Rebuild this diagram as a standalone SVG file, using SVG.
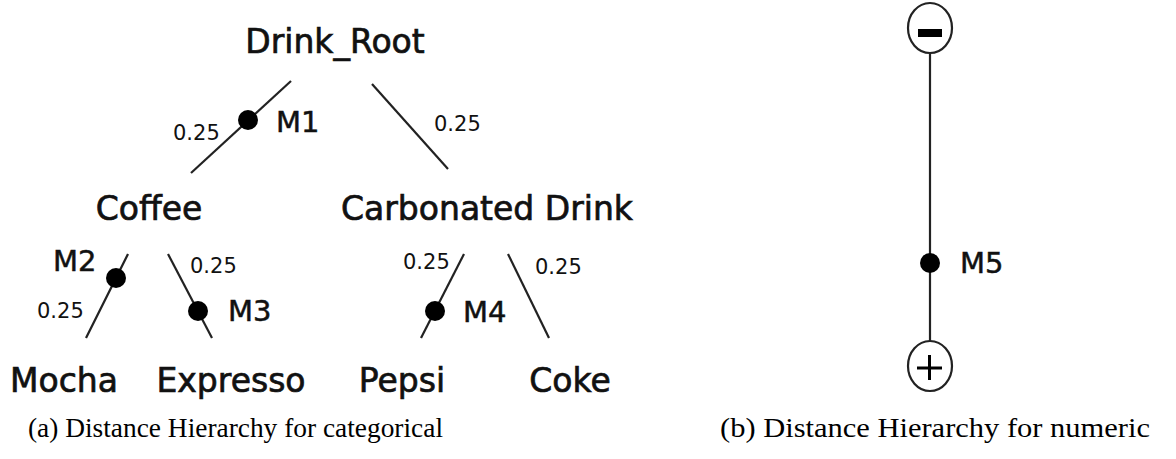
<svg xmlns="http://www.w3.org/2000/svg" width="1176" height="459" viewBox="0 0 1176 459">
  <style>
    .node { font-family: "DejaVu Sans", Verdana, sans-serif; font-size: 33px; fill: #111; stroke: #111; stroke-width: 0.7; text-anchor: middle; }
    .mark { font-family: "DejaVu Sans", Verdana, sans-serif; font-size: 29px; fill: #111; stroke: #111; stroke-width: 0.5; }
    .wt { font-family: "DejaVu Sans", Verdana, sans-serif; font-size: 21px; fill: #111; }
    .cap { font-family: "Liberation Serif", "Times New Roman", serif; font-size: 28px; fill: #000; }
    .edge { stroke: #222; stroke-width: 2.2; fill: none; }
    .dot { fill: #000; }
    .end { fill: #fff; stroke: #222; stroke-width: 2.2; }
  </style>
  <rect width="1176" height="459" fill="#fff"/>

  <!-- connectors of the categorical hierarchy and the numeric axis -->
  <g id="connectors">
    <line class="edge" x1="291" y1="81" x2="191" y2="173"/>
    <line class="edge" x1="372" y1="84" x2="448" y2="169"/>
    <line class="edge" x1="128" y1="254" x2="86" y2="338"/>
    <line class="edge" x1="168" y1="254" x2="212" y2="338"/>
    <line class="edge" x1="464" y1="254" x2="421" y2="338"/>
    <line class="edge" x1="508" y1="254" x2="549" y2="338"/>
    <line class="edge" x1="930" y1="53" x2="930" y2="341"/>
    <circle class="dot" cx="248" cy="120" r="10"/>
    <circle class="dot" cx="116" cy="278" r="10"/>
    <circle class="dot" cx="198" cy="311" r="10"/>
    <circle class="dot" cx="435" cy="311" r="10"/>
    <circle class="dot" cx="930" cy="263" r="10"/>
    <text class="wt" x="173" y="140">0.25</text>
    <text class="wt" x="434" y="131">0.25</text>
    <text class="wt" x="37" y="318">0.25</text>
    <text class="wt" x="190" y="273">0.25</text>
    <text class="wt" x="403" y="269">0.25</text>
    <text class="wt" x="535" y="274">0.25</text>
    <text class="mark" x="276" y="132">M1</text>
    <text class="mark" x="53" y="271">M2</text>
    <text class="mark" x="228" y="321">M3</text>
    <text class="mark" x="463" y="322">M4</text>
    <text class="mark" x="960" y="273">M5</text>
  </g>

  <g id="drink-root"><text class="node" x="335" y="53">Drink_Root</text></g>
  <g id="coffee"><text class="node" x="149" y="220">Coffee</text></g>
  <g id="carbonated-drink"><text class="node" x="487" y="220">Carbonated Drink</text></g>
  <g id="mocha"><text class="node" x="64" y="392">Mocha</text></g>
  <g id="expresso"><text class="node" x="231" y="392">Expresso</text></g>
  <g id="pepsi"><text class="node" x="402" y="392">Pepsi</text></g>
  <g id="coke"><text class="node" x="570" y="392">Coke</text></g>

  <!-- numeric axis end points -->
  <g id="minus-end">
    <ellipse class="end" cx="930" cy="28" rx="22" ry="25"/>
    <rect x="918" y="29" width="24" height="8" fill="#000"/>
  </g>
  <g id="plus-end">
    <ellipse class="end" cx="930" cy="366" rx="22" ry="25"/>
    <line x1="917" y1="368" x2="942" y2="368" stroke="#000" stroke-width="3"/>
    <line x1="929.5" y1="355" x2="929.5" y2="380" stroke="#000" stroke-width="3"/>
  </g>

  <g id="captions">
    <text class="cap" x="28" y="437" textLength="415" lengthAdjust="spacingAndGlyphs">(a) Distance Hierarchy for categorical</text>
    <text class="cap" x="720" y="437" textLength="430" lengthAdjust="spacingAndGlyphs">(b) Distance Hierarchy for numeric</text>
  </g>
</svg>
